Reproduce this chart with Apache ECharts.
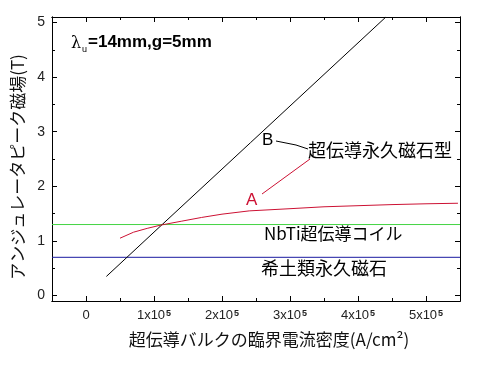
<!DOCTYPE html>
<html>
<head>
<meta charset="utf-8">
<script src="https://cdn.jsdelivr.net/npm/echarts@6/dist/echarts.min.js"></script>
<style>html,body{margin:0;padding:0;background:#fff}#c{width:500px;height:365px}</style>
</head>
<body>
<div id="c"></div>
<script>
// ---- data ----
const xMajorTicks = [0, 100000, 200000, 300000, 400000, 500000];
const xMinorTicks = [50000, 150000, 250000, 350000, 450000, 550000];
const yMajorTicks = [0, 1, 2, 3, 4, 5];
const yMinorTicks = [0.5, 1.5, 2.5, 3.5, 4.5];
const seriesB = [[30000, 0.35], [112000, 1.30], [242000, 2.80], [441000, 5.10]];
const seriesA = [[50000, 1.05], [70000, 1.16], [90000, 1.23], [110000, 1.29], [140000, 1.36], [170000, 1.43], [200000, 1.49], [240000, 1.55], [300000, 1.59], [350000, 1.625], [400000, 1.645], [450000, 1.665], [500000, 1.68], [547000, 1.69]];
const nbtiLevel = [[-50000, 1.3], [550000, 1.3]];
const rareEarthLevel = [[-50000, 0.7], [550000, 0.7]];
const xTitle = '超伝導バルクの臨界電流密度(A/cm²)';
const yTitle = 'アンジュレータピーク磁場(T)';

const chart = echarts.init(document.getElementById('c'));
const FONT = 'Liberation Sans, Arial, sans-serif';
const CJK = '"Noto Sans CJK JP", sans-serif';
const X_MIN = -50000, X_MAX = 550000, Y_MIN = -0.1, Y_MAX = 5.1;

function xAxisDef(pos, ticks, len, labels) {
  return {
    type: 'value', position: pos, min: X_MIN, max: X_MAX,
    axisLine: {show: true, onZero: false, lineStyle: {color: '#000', width: 1}},
    splitLine: {show: false},
    axisTick: {show: true, inside: true, length: len, customValues: ticks, lineStyle: {color: '#000'}},
    axisLabel: labels ? {
      show: true, customValues: ticks, margin: 8, color: '#222', fontFamily: FONT, fontSize: 13,
      formatter: function (v) { return v === 0 ? '{n|0}' : '{n|' + Math.round(v / 100000) + 'x10}{s|5}'; },
      rich: {n: {fontSize: 13, fontFamily: FONT, color: '#222'}, s: {fontSize: 9, fontWeight: 'bold', fontFamily: FONT, color: '#222', verticalAlign: 'top', padding: [0, 0, 0, 1]}}
    } : {show: false}
  };
}
function yAxisDef(pos, ticks, len, labels) {
  return {
    type: 'value', position: pos, min: Y_MIN, max: Y_MAX,
    axisLine: {show: true, onZero: false, lineStyle: {color: '#000', width: 1}},
    splitLine: {show: false},
    axisTick: {show: true, inside: true, length: len, customValues: ticks, lineStyle: {color: '#000'}},
    axisLabel: labels ? {show: true, customValues: ticks, margin: 7, color: '#222', fontFamily: FONT, fontSize: 14} : {show: false}
  };
}

const xAxes = [
  xAxisDef('bottom', xMajorTicks, 5, true),
  xAxisDef('bottom', xMinorTicks, 3, false),
  xAxisDef('top', xMajorTicks, 5, false),
  xAxisDef('top', xMinorTicks, 3, false)
];
xAxes[0].name = xTitle;
xAxes[0].nameLocation = 'middle';
xAxes[0].nameGap = 30;
xAxes[0].nameTextStyle = {fontFamily: CJK, fontSize: 17, color: '#111', padding: [0, 0, 0, 26]};

const yAxes = [
  yAxisDef('left', yMajorTicks, 5, true),
  yAxisDef('left', yMinorTicks, 3, false),
  yAxisDef('right', yMajorTicks, 5, false),
  yAxisDef('right', yMinorTicks, 3, false)
];
yAxes[0].name = yTitle;
yAxes[0].nameLocation = 'middle';
yAxes[0].nameRotate = 90;
yAxes[0].nameGap = 22;
yAxes[0].nameTextStyle = {fontFamily: CJK, fontSize: 17, color: '#111', padding: [0, 16, 0, 0]};

function lineSeries(data, color) {
  return {type: 'line', data: data, xAxisIndex: 0, yAxisIndex: 0, symbol: 'none', clip: true, silent: true,
    lineStyle: {color: color, width: 1}, animation: false};
}

chart.setOption({
  animation: false,
  grid: {left: 52, right: 40, top: 17, bottom: 64, containLabel: false},
  xAxis: xAxes,
  yAxis: yAxes,
  series: [
    lineSeries(rareEarthLevel, '#1a1aa0'),
    lineSeries(nbtiLevel, '#44d444'),
    lineSeries(seriesB, '#000000'),
    lineSeries(seriesA, '#cc1133')
  ],
  graphic: [
    {type: 'text', left: 71, top: 36, style: {text: 'λ', font: '16px "DejaVu Serif", serif', fill: '#000'}},
    {type: 'text', left: 82, top: 45, style: {text: 'u', font: '9px ' + FONT, fill: '#000'}},
    {type: 'text', left: 88, top: 34, style: {text: '=14mm,g=5mm', font: 'bold 17px ' + FONT, fill: '#000'}},
    {type: 'text', left: 262, top: 132, style: {text: 'B', font: '17px ' + FONT, fill: '#000'}},
    {type: 'polyline', shape: {points: [[276, 141], [296, 145], [308, 149]]}, style: {stroke: '#000', lineWidth: 1, fill: null}},
    {type: 'text', left: 308, top: 141, style: {text: '超伝導永久磁石型', font: '18px ' + CJK, fill: '#000'}},
    {type: 'text', left: 246, top: 192, style: {text: 'A', font: '17px ' + FONT, fill: '#cc1133'}},
    {type: 'line', shape: {x1: 262, y1: 194, x2: 310, y2: 159}, style: {stroke: '#cc1133', lineWidth: 1}},
    {type: 'text', left: 264, top: 225, style: {text: 'NbTi超伝導コイル', font: '17px ' + CJK, fill: '#000'}},
    {type: 'text', left: 261, top: 259, style: {text: '希土類永久磁石', font: '18px ' + CJK, fill: '#000'}}
  ]
});
</script>
</body>
</html>
